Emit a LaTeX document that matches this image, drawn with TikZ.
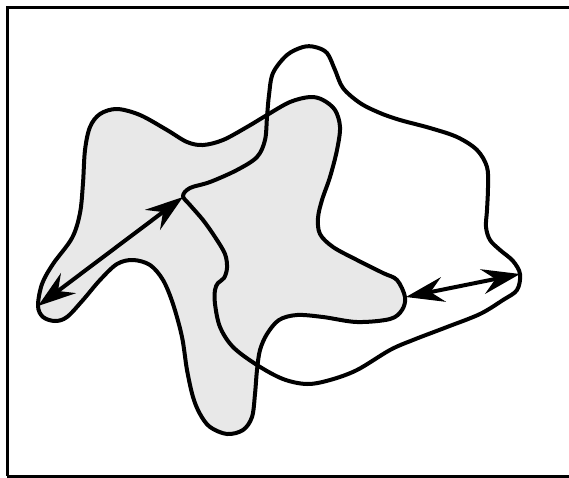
\documentclass[tikz,border=0pt]{standalone}
\usepackage{tikz}
\usetikzlibrary{arrows.meta}
\definecolor{blobgray}{RGB}{232, 232, 232}

\tikzset{
    outline/.style={line width=4pt, line join=round},
    gaptip/.tip={Stealth[length=38pt 0 0, width=25pt 0 0, inset=13pt 0]},
    gaparrow/.style={line width=4pt, gaptip-gaptip}
}

\begin{document}
\begin{tikzpicture}[x=1pt, y=-1pt]
            \useasboundingbox (0,0) rectangle (569,477);
            \draw[line width=3pt] (7,476) -- (7,7) -- (575,7);
            \draw[line width=3pt] (7,476) -- (575,476);
            % shaded region
            \draw[outline, fill=blobgray] plot[smooth cycle, tension=0.55] coordinates {
                (38,306) (43,317) (55,321) (67,317) (83,300) (100,280) (117,264) (133,260)
                (150,265) (163,280) (173,304) (182,337) (187,370) (193,397) (200,414) (210,427)
                (227,434) (243,430) (252,417) (255,394) (257,370) (260,350) (267,334) (279,320)
                (297,315) (323,317) (357,322) (390,319) (402,310) (405,297) (397,280) (383,273)
                (357,260) (333,247) (320,234) (318,218) (322,200) (330,177) (337,150) (340,127)
                (335,110) (323,100) (310,97) (290,102) (267,115) (247,127) (223,140) (203,145)
                (187,142) (167,130) (140,115) (117,109) (100,114) (90,127) (85,150) (83,183)
                (80,213) (72,238) (53,264) (42,284)};
            % open region
            \draw[outline] plot[smooth cycle, tension=0.55] coordinates {
                (183,196) (190,188) (210,182) (237,170) (257,157) (265,140) (267,117) (269,95)
                (273,73) (287,55) (303,47) (315,47) (327,53) (335,70) (343,88) (360,103)
                (380,113) (400,120) (430,128) (457,137) (477,150) (487,167) (488,187) (487,210)
                (486,227) (490,240) (500,250) (513,261) (520,274) (517,290) (503,300) (480,314)
                (447,327) (413,340) (390,350) (357,370) (330,380) (307,384) (283,379) (257,365)
                (233,347) (220,327) (215,304) (215,290) (218,283) (224,278) (227,268) (225,254)
                (215,237) (203,220) (190,205)};
            \coordinate (tipL) at (38,306);
            \coordinate (cusp) at (183,197);
            \coordinate (tipG) at (406,297);
            \coordinate (tipW) at (520,274);
            \draw[gaparrow] (tipL) -- (cusp);
            \draw[gaparrow] (tipG) -- (tipW);
        \end{tikzpicture}
\end{document}
